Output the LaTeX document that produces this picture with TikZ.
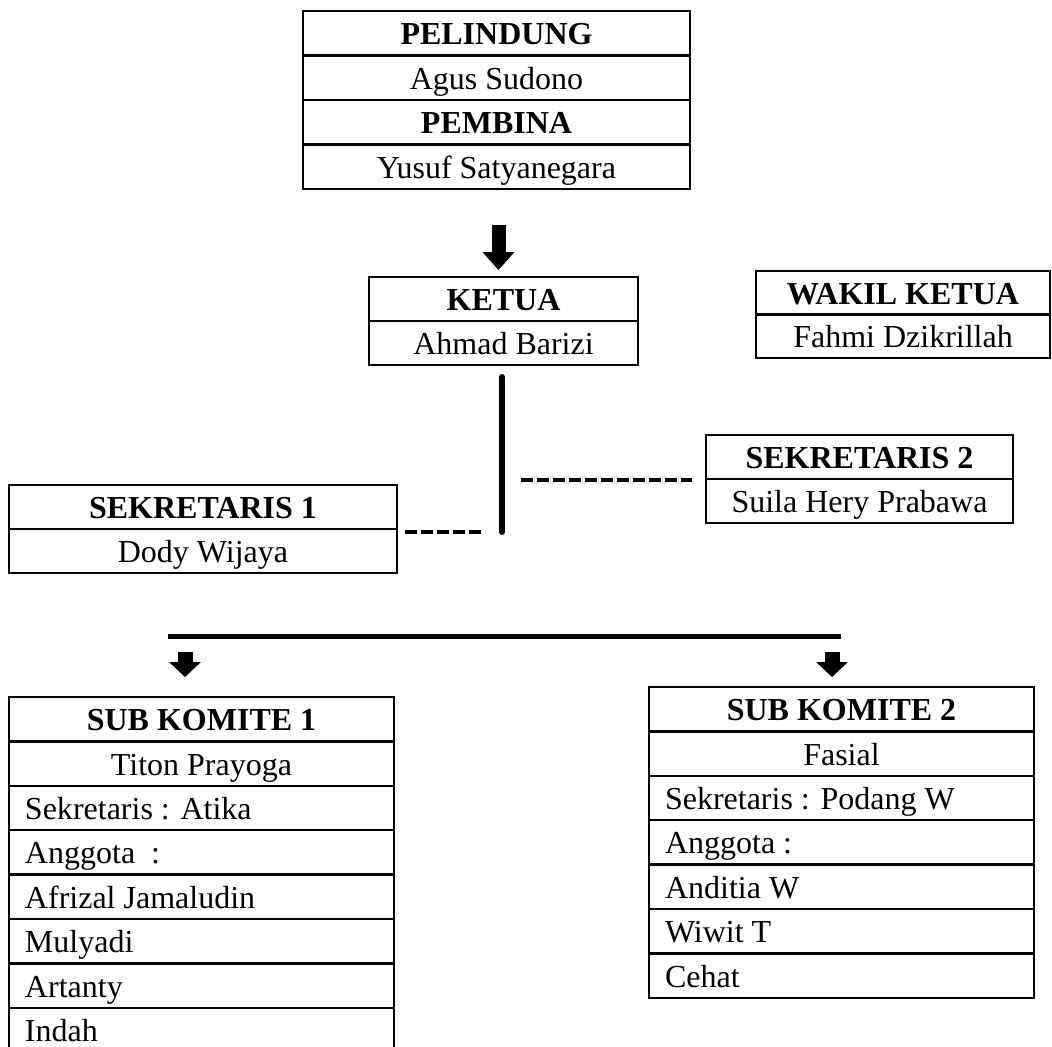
\documentclass[tikz,border=0pt]{standalone}
\usepackage{fontspec}
\setmainfont{Liberation Serif}
\usetikzlibrary{arrows.meta}
\usetikzlibrary{calc}

\tikzset{
  cell/.style 2 args={draw, line width=1.2pt, anchor=north west, inner sep=0pt, outer sep=0pt,
    minimum width=#1, minimum height=#2, text height=15pt, text depth=3.6pt},
  lcell/.style 2 args={cell={#1}{#2}, text width=#1-16pt, inner xsep=8pt, align=flush left},
  head/.style={font=\fontsize{16}{19}\selectfont\bfseries},
  bigarrow/.style={line width=7pt, -{Triangle[width=15.5pt,length=9pt]}},
  smallarrow/.style={line width=7.5pt, -{Triangle[width=15.5pt,length=7.5pt]}},
  vline/.style={line width=3pt, line cap=round},
  hbar/.style={line width=2.5pt},
  dashline/.style={line width=2pt, dash pattern=on 6pt off 2pt}
}

\begin{document}
\begin{tikzpicture}[x=0.5pt, y=-0.5pt, every node/.style={font=\fontsize{16}{19}\selectfont}]

\clip (0,0) rectangle (1052,1046);

%PELINDUNG / PEMBINA
\node[cell={193.5pt}{22.25pt}, head] (pel1) at (303,11) {PELINDUNG};
\node[cell={193.5pt}{22.25pt}] (pel2) at (pel1.south west) {Agus Sudono};
\node[cell={193.5pt}{22.25pt}, head] (pel3) at (pel2.south west) {PEMBINA};
\node[cell={193.5pt}{22.25pt}] (pel4) at (pel3.south west) {Yusuf Satyanegara};

%KETUA
\node[cell={134.5pt}{22pt}, head] (ketua1) at (369,277) {KETUA};
\node[cell={134.5pt}{22pt}] (ketua2) at (ketua1.south west) {Ahmad Barizi};

%WAKIL KETUA
\node[cell={147pt}{21.75pt}, head] (wakil1) at (756,271) {WAKIL KETUA};
\node[cell={147pt}{21.75pt}] (wakil2) at (wakil1.south west) {Fahmi Dzikrillah};

%SEKRETARIS 2
\node[cell={153.5pt}{22pt}, head] (sek2a) at (706,435) {SEKRETARIS 2};
\node[cell={153.5pt}{22pt}] (sek2b) at (sek2a.south west) {Suila Hery Prabawa};

%SEKRETARIS 1
\node[cell={194pt}{22pt}, head] (sek1a) at (9,485) {SEKRETARIS 1};
\node[cell={194pt}{22pt}] (sek1b) at (sek1a.south west) {Dody Wijaya};

%SUB KOMITE 1
\node[cell={192.5pt}{22.2pt}, head] (sub1a) at (9,697) {SUB KOMITE 1};
\node[cell={192.5pt}{22.2pt}] (sub1b) at (sub1a.south west) {Titon Prayoga};
\node[lcell={192.5pt}{22.2pt}] (sub1c) at (sub1b.south west) {Sekretaris : Atika};
\node[lcell={192.5pt}{22.2pt}] (sub1d) at (sub1c.south west) {Anggota\ \ :};
\node[lcell={192.5pt}{22.2pt}] (sub1e) at (sub1d.south west) {Afrizal Jamaludin};
\node[lcell={192.5pt}{22.2pt}] (sub1f) at (sub1e.south west) {Mulyadi};
\node[lcell={192.5pt}{22.2pt}] (sub1g) at (sub1f.south west) {Artanty};
\node[lcell={192.5pt}{22.2pt}] (sub1h) at (sub1g.south west) {Indah};

%SUB KOMITE 2
\node[cell={192.5pt}{22.2pt}, head] (sub2a) at (649,687) {SUB KOMITE 2};
\node[cell={192.5pt}{22.2pt}] (sub2b) at (sub2a.south west) {Fasial};
\node[lcell={192.5pt}{22.2pt}] (sub2c) at (sub2b.south west) {Sekretaris : Podang W};
\node[lcell={192.5pt}{22.2pt}] (sub2d) at (sub2c.south west) {Anggota :};
\node[lcell={192.5pt}{22.2pt}] (sub2e) at (sub2d.south west) {Anditia W};
\node[lcell={192.5pt}{22.2pt}] (sub2f) at (sub2e.south west) {Wiwit T};
\node[lcell={192.5pt}{22.2pt}] (sub2g) at (sub2f.south west) {Cehat};

%arrow to KETUA
\draw[bigarrow] ($(pel4.south)+(2,36)$) -- ($(pel4.south |- ketua1.north)+(2,-7)$);

%line below KETUA
\coordinate (vbot) at (502,532);
\draw[vline] ($(vbot |- ketua2.south)+(0,12)$) -- (vbot);

%dashed links
\draw[dashline] ($(sek1a.south east |- vbot)+(8,0)$) -- ($(vbot)+(-21,0)$);
\draw[dashline] ($(vbot |- sek2a.south west)+(19,1)$) -- ($(sek2a.south west)+(-14,1)$);

%bar to SUB KOMITE
\coordinate (barL) at (168,636);
\coordinate (barR) at (841,636);
\draw[hbar] (barL) -- (barR);
\draw[smallarrow] ($(barL)+(17,16)$) -- ($(barL |- sub1a.north)+(17,-20)$);
\draw[smallarrow] ($(barR)+(-9,16)$) -- ($(barR |- sub2a.north)+(-9,-10)$);

\end{tikzpicture}
\end{document}
